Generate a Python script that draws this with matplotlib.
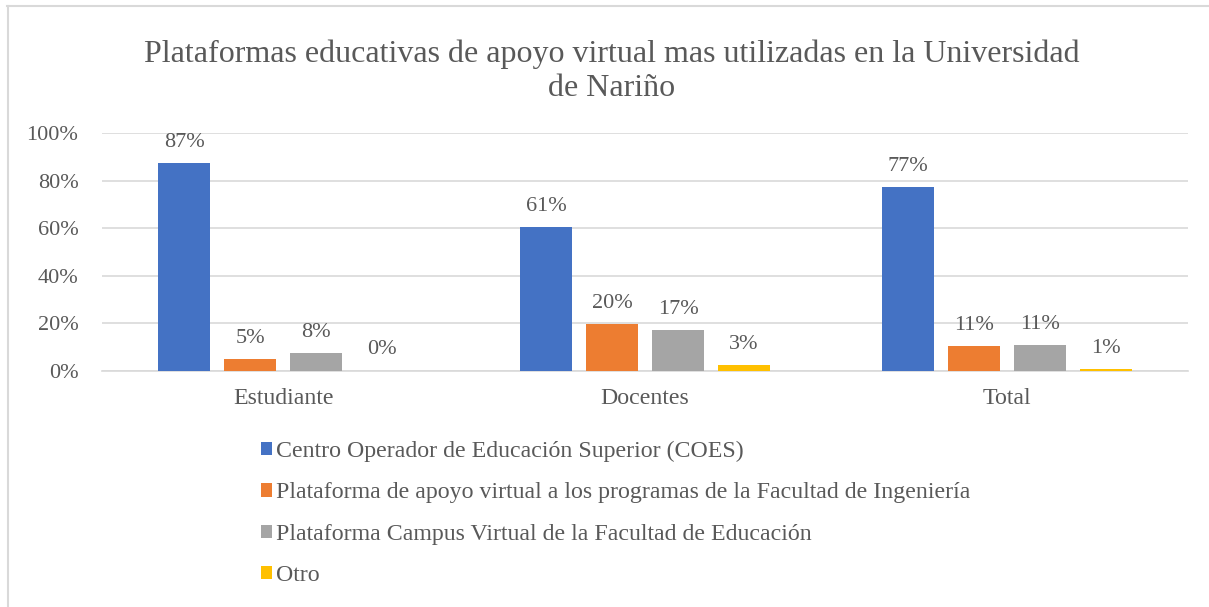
import matplotlib
matplotlib.use("Agg")
import matplotlib.pyplot as plt
from matplotlib.lines import Line2D
import numpy as np

categories = ["Estudiante", "Docentes", "Total"]
series_names = [
    "Centro Operador de Educación Superior (COES)",
    "Plataforma de apoyo virtual a los programas de la Facultad de Ingeniería",
    "Plataforma Campus Virtual de la Facultad de Educación",
    "Otro",
]
coes = [0.872, 0.606, 0.774]
ingenieria = [0.051, 0.197, 0.106]
educacion = [0.076, 0.171, 0.110]
otro = [0.002, 0.026, 0.010]
series_values = [coes, ingenieria, educacion, otro]
colors = ["#4472C4", "#ED7D31", "#A5A5A5", "#FFC000"]
yticks = [0, 0.2, 0.4, 0.6, 0.8, 1.0]

plt.rcParams["font.family"] = ["Liberation Serif", "DejaVu Serif"]
txt = "#595959"

W, H = 1209, 607
fig = plt.figure(figsize=(W / 100, H / 100), dpi=100)
ax = fig.add_axes([102 / W, 1 - 371 / H, (1188 - 102) / W, (371 - 133) / H])

x = np.arange(len(categories))
width = 0.1436
step = 0.1823
for i, (name, vals, c) in enumerate(zip(series_names, series_values, colors)):
    bars = ax.bar(x + (i - 1.5) * step, vals, width, color=c, label=name, zorder=3)
    ax.bar_label(bars, labels=[f"{round(v*100):.0f}%" for v in vals],
                 padding=8, fontsize=16, color=txt)

ax.set_xlim(-0.5, 2.5)
ax.set_ylim(0, 1.0)
ax.set_yticks(yticks)
ax.set_yticklabels([f"{int(t*100)}%" for t in yticks])
ax.set_xticks(x)
ax.set_xticklabels(categories)
ax.tick_params(axis="both", length=0, labelcolor=txt)
ax.tick_params(axis="y", pad=17, labelsize=16)
ax.tick_params(axis="x", pad=12, labelsize=17.2)
ax.grid(axis="y", color="#d9d9d9", linewidth=1.2, zorder=0)
for s in ["top", "right", "left"]:
    ax.spines[s].set_visible(False)
ax.spines["bottom"].set_color("#d9d9d9")
ax.spines["bottom"].set_linewidth(1.2)

fig.text(612 / W, 1 - 71 / H,
         "Plataformas educativas de apoyo virtual mas utilizadas en la Universidad\nde Nariño",
         ha="center", va="center", fontsize=23, color=txt, linespacing=1.24)

ax.legend(loc="upper left", bbox_to_anchor=(260.5 / W, 1 - 441 / H),
          bbox_transform=fig.transFigure, frameon=False, fontsize=17.2,
          labelcolor=txt, handlelength=0.48, handleheight=0.48,
          handletextpad=0.18, labelspacing=0.85, borderpad=0, borderaxespad=0)

# chart border (top and left edges)
fig.add_artist(Line2D([7 / W, 1.0], [1 - 6 / H, 1 - 6 / H], color="#d9d9d9",
                      linewidth=1.5, transform=fig.transFigure))
fig.add_artist(Line2D([8 / W, 8 / W], [0, 1 - 6 / H], color="#d9d9d9",
                      linewidth=1.5, transform=fig.transFigure))

fig.savefig("out.png", dpi=100, facecolor="white")
